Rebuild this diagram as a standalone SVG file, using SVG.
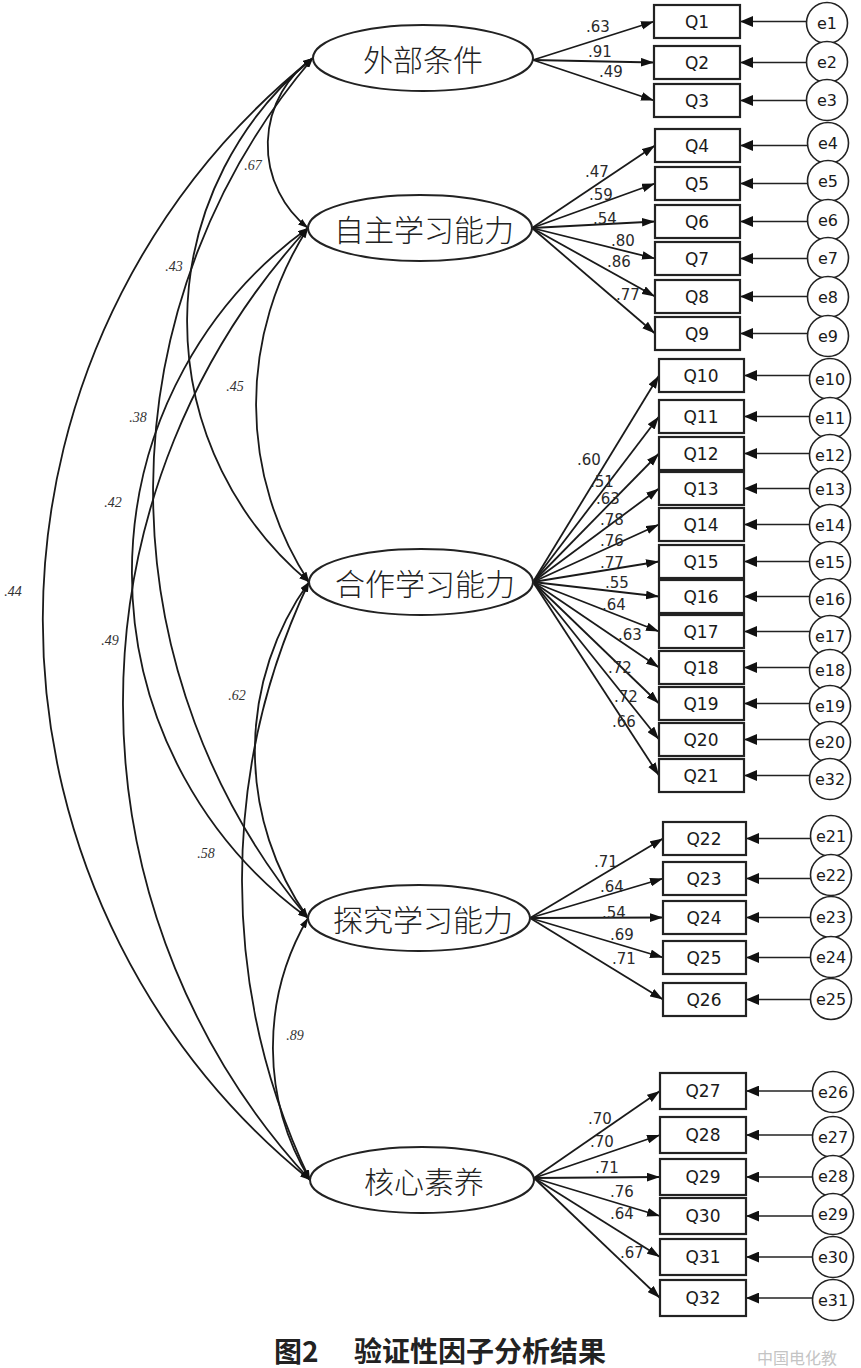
<svg xmlns="http://www.w3.org/2000/svg" width="861" height="1368" viewBox="0 0 861 1368">
<style>
.lat{fill:#fff;stroke:#222;stroke-width:2}
.latt{font-family:"Noto Sans CJK SC","Noto Sans",sans-serif;font-size:30px;font-weight:300;fill:#222;text-anchor:middle;dominant-baseline:central}
.box{fill:#fff;stroke:#222;stroke-width:2.2}
.bt{font-family:"DejaVu Sans",sans-serif;font-size:17px;fill:#1a1a1a;text-anchor:middle;dominant-baseline:central}
.err{fill:#fff;stroke:#222;stroke-width:1.6}
.et{font-family:"DejaVu Sans",sans-serif;font-size:16px;fill:#1a1a1a;text-anchor:middle;dominant-baseline:central}
.ld{stroke:#1a1a1a;stroke-width:1.8;fill:none;marker-end:url(#ah)}
.el{stroke:#222;stroke-width:1.3;fill:none;marker-end:url(#ah2)}
.cv{stroke:#1a1a1a;stroke-width:1.8;fill:none;marker-start:url(#ca);marker-end:url(#ca)}
.lt{font-family:"DejaVu Sans",sans-serif;font-size:15px;fill:#2a2a2a;text-anchor:middle;dominant-baseline:central}
.ct{font-family:"Liberation Serif",serif;font-size:14px;font-style:italic;fill:#333;text-anchor:middle;dominant-baseline:central}
.cap{font-family:"Noto Sans CJK SC",sans-serif;font-size:28px;font-weight:bold;fill:#222}
</style>
<defs>
<marker id="ah" viewBox="0 0 12 8" refX="12" refY="4" markerWidth="13" markerHeight="9" markerUnits="userSpaceOnUse" orient="auto"><path d="M0,0 L12,4 L0,8 z" fill="#111"/></marker>
<marker id="ah2" viewBox="0 0 12 10" refX="12" refY="5" markerWidth="13" markerHeight="11" markerUnits="userSpaceOnUse" orient="auto"><path d="M0,0 L12,5 L0,10 z" fill="#111"/></marker>
<marker id="ca" viewBox="0 0 10 7" refX="10" refY="3.5" markerWidth="10" markerHeight="7" markerUnits="userSpaceOnUse" orient="auto-start-reverse"><path d="M0,0 L10,3.5 L0,7 z" fill="#111"/></marker>
</defs>

<g id="connectors">
<path class="cv" d="M313,58 A106,106 0 0 0 308,228"/>
<path class="cv" d="M313,58 A339,339 0 0 0 309,582"/>
<path class="cv" d="M313,58 A666,666 0 0 0 308,918"/>
<path class="cv" d="M313,58 A720,720 0 0 0 310,1180"/>
<path class="cv" d="M308,228 A325,325 0 0 0 309,582"/>
<path class="cv" d="M308,228 A426,426 0 0 0 308,918"/>
<path class="cv" d="M308,228 A702,702 0 0 0 310,1180"/>
<path class="cv" d="M309,582 A290,290 0 0 0 308,918"/>
<path class="cv" d="M309,582 A696,696 0 0 0 310,1180"/>
<path class="cv" d="M308,918 A256,256 0 0 0 310,1180"/>
<path class="ld" d="M533,60 L654,21.5"/>
<path class="ld" d="M533,60 L654,62.5"/>
<path class="ld" d="M533,60 L654,100.5"/>
<path class="ld" d="M532,228 L655,145.5"/>
<path class="ld" d="M532,228 L655,183.5"/>
<path class="ld" d="M532,228 L655,221.5"/>
<path class="ld" d="M532,228 L655,258.5"/>
<path class="ld" d="M532,228 L655,296.5"/>
<path class="ld" d="M532,228 L655,333.5"/>
<path class="ld" d="M533,582 L659,375.5"/>
<path class="ld" d="M533,582 L659,416.5"/>
<path class="ld" d="M533,582 L659,453.5"/>
<path class="ld" d="M533,582 L659,488.5"/>
<path class="ld" d="M533,582 L659,524.5"/>
<path class="ld" d="M533,582 L659,561.5"/>
<path class="ld" d="M533,582 L659,596.5"/>
<path class="ld" d="M533,582 L659,631.5"/>
<path class="ld" d="M533,582 L659,667.5"/>
<path class="ld" d="M533,582 L659,703.5"/>
<path class="ld" d="M533,582 L659,739.5"/>
<path class="ld" d="M533,582 L659,775.5"/>
<path class="ld" d="M530,918 L663,838.5"/>
<path class="ld" d="M530,918 L663,878.5"/>
<path class="ld" d="M530,918 L663,917.5"/>
<path class="ld" d="M530,918 L663,957.5"/>
<path class="ld" d="M530,918 L663,999.5"/>
<path class="ld" d="M534,1178 L660,1091"/>
<path class="ld" d="M534,1178 L660,1135"/>
<path class="ld" d="M534,1178 L660,1177"/>
<path class="ld" d="M534,1178 L660,1216"/>
<path class="ld" d="M534,1178 L660,1257"/>
<path class="ld" d="M534,1178 L660,1298"/>
<path class="el" d="M807,21.5 L740,21.5"/>
<path class="el" d="M807,62.5 L740,62.5"/>
<path class="el" d="M807,100.5 L740,100.5"/>
<path class="el" d="M808,145.5 L740,145.5"/>
<path class="el" d="M808,183.5 L740,183.5"/>
<path class="el" d="M808,221.5 L740,221.5"/>
<path class="el" d="M808,258.5 L740,258.5"/>
<path class="el" d="M808,296.5 L740,296.5"/>
<path class="el" d="M808,333.5 L740,333.5"/>
<path class="el" d="M810,375.5 L744,375.5"/>
<path class="el" d="M810,416.5 L744,416.5"/>
<path class="el" d="M810,453.5 L744,453.5"/>
<path class="el" d="M810,488.5 L744,488.5"/>
<path class="el" d="M810,524.5 L744,524.5"/>
<path class="el" d="M810,561.5 L744,561.5"/>
<path class="el" d="M810,596.5 L744,596.5"/>
<path class="el" d="M810,631.5 L744,631.5"/>
<path class="el" d="M810,667.5 L744,667.5"/>
<path class="el" d="M810,703.5 L744,703.5"/>
<path class="el" d="M810,739.5 L744,739.5"/>
<path class="el" d="M810,775.5 L744,775.5"/>
<path class="el" d="M811,838.5 L746,838.5"/>
<path class="el" d="M811,878.5 L746,878.5"/>
<path class="el" d="M811,917.5 L746,917.5"/>
<path class="el" d="M811,957.5 L746,957.5"/>
<path class="el" d="M811,999.5 L746,999.5"/>
<path class="el" d="M813,1091 L746,1091"/>
<path class="el" d="M813,1135 L746,1135"/>
<path class="el" d="M813,1177 L746,1177"/>
<path class="el" d="M813,1216 L746,1216"/>
<path class="el" d="M813,1257 L746,1257"/>
<path class="el" d="M813,1298 L746,1298"/>
</g>

<g id="cov-labels">
<text class="ct" x="253" y="165">.67</text>
<text class="ct" x="174" y="266">.43</text>
<text class="ct" x="235" y="386">.45</text>
<text class="ct" x="138" y="417">.38</text>
<text class="ct" x="113" y="502">.42</text>
<text class="ct" x="13" y="591">.44</text>
<text class="ct" x="110" y="640">.49</text>
<text class="ct" x="237" y="695">.62</text>
<text class="ct" x="206" y="853">.58</text>
<text class="ct" x="295" y="1035">.89</text>
</g>

<g id="load-labels">
<text class="lt" x="598" y="27">.63</text>
<text class="lt" x="600" y="52">.91</text>
<text class="lt" x="611" y="72">.49</text>
<text class="lt" x="597" y="172">.47</text>
<text class="lt" x="601" y="195">.59</text>
<text class="lt" x="605" y="219">.54</text>
<text class="lt" x="623" y="241">.80</text>
<text class="lt" x="619" y="262">.86</text>
<text class="lt" x="628" y="295">.77</text>
<text class="lt" x="589" y="460">.60</text>
<text class="lt" x="602" y="482">.51</text>
<text class="lt" x="608" y="499">.63</text>
<text class="lt" x="612" y="520">.78</text>
<text class="lt" x="612" y="541">.76</text>
<text class="lt" x="612" y="563">.77</text>
<text class="lt" x="617" y="583">.55</text>
<text class="lt" x="614" y="605">.64</text>
<text class="lt" x="630" y="635">.63</text>
<text class="lt" x="620" y="668">.72</text>
<text class="lt" x="626" y="697">.72</text>
<text class="lt" x="624" y="722">.66</text>
<text class="lt" x="606" y="862">.71</text>
<text class="lt" x="612" y="887">.64</text>
<text class="lt" x="614" y="913">.54</text>
<text class="lt" x="622" y="935">.69</text>
<text class="lt" x="624" y="959">.71</text>
<text class="lt" x="600" y="1119">.70</text>
<text class="lt" x="602" y="1142">.70</text>
<text class="lt" x="607" y="1168">.71</text>
<text class="lt" x="622" y="1192">.76</text>
<text class="lt" x="622" y="1214">.64</text>
<text class="lt" x="632" y="1253">.67</text>
</g>

<g id="F1"><ellipse class="lat" cx="423" cy="58" rx="110" ry="33"/><text class="latt" x="423" y="58">外部条件</text></g>
<g id="F2"><ellipse class="lat" cx="420" cy="228" rx="112" ry="33"/><text class="latt" x="424" y="228">自主学习能力</text></g>
<g id="F3"><ellipse class="lat" cx="421" cy="582" rx="112" ry="33"/><text class="latt" x="425" y="582">合作学习能力</text></g>
<g id="F4"><ellipse class="lat" cx="419" cy="918" rx="111" ry="33"/><text class="latt" x="423" y="918">探究学习能力</text></g>
<g id="F5"><ellipse class="lat" cx="422" cy="1180" rx="112" ry="33"/><text class="latt" x="424" y="1180">核心素养</text></g>

<g id="Q1"><rect class="box" x="654" y="5" width="86" height="33"/><text class="bt" x="697" y="21.5">Q1</text></g>
<g id="Q2"><rect class="box" x="654" y="46" width="86" height="33"/><text class="bt" x="697" y="62.5">Q2</text></g>
<g id="Q3"><rect class="box" x="654" y="84" width="86" height="33"/><text class="bt" x="697" y="100.5">Q3</text></g>
<g id="Q4"><rect class="box" x="655" y="129" width="85" height="33"/><text class="bt" x="697" y="145.5">Q4</text></g>
<g id="Q5"><rect class="box" x="655" y="167" width="85" height="33"/><text class="bt" x="697" y="183.5">Q5</text></g>
<g id="Q6"><rect class="box" x="655" y="205" width="85" height="33"/><text class="bt" x="697" y="221.5">Q6</text></g>
<g id="Q7"><rect class="box" x="655" y="242" width="85" height="33"/><text class="bt" x="697" y="258.5">Q7</text></g>
<g id="Q8"><rect class="box" x="655" y="280" width="85" height="33"/><text class="bt" x="697" y="296.5">Q8</text></g>
<g id="Q9"><rect class="box" x="655" y="317" width="85" height="33"/><text class="bt" x="697" y="333.5">Q9</text></g>
<g id="Q10"><rect class="box" x="659" y="359" width="85" height="33"/><text class="bt" x="701" y="375.5">Q10</text></g>
<g id="Q11"><rect class="box" x="659" y="400" width="85" height="33"/><text class="bt" x="701" y="416.5">Q11</text></g>
<g id="Q12"><rect class="box" x="659" y="437" width="85" height="33"/><text class="bt" x="701" y="453.5">Q12</text></g>
<g id="Q13"><rect class="box" x="659" y="472" width="85" height="33"/><text class="bt" x="701" y="488.5">Q13</text></g>
<g id="Q14"><rect class="box" x="659" y="508" width="85" height="33"/><text class="bt" x="701" y="524.5">Q14</text></g>
<g id="Q15"><rect class="box" x="659" y="545" width="85" height="33"/><text class="bt" x="701" y="561.5">Q15</text></g>
<g id="Q16"><rect class="box" x="659" y="580" width="85" height="33"/><text class="bt" x="701" y="596.5">Q16</text></g>
<g id="Q17"><rect class="box" x="659" y="615" width="85" height="33"/><text class="bt" x="701" y="631.5">Q17</text></g>
<g id="Q18"><rect class="box" x="659" y="651" width="85" height="33"/><text class="bt" x="701" y="667.5">Q18</text></g>
<g id="Q19"><rect class="box" x="659" y="687" width="85" height="33"/><text class="bt" x="701" y="703.5">Q19</text></g>
<g id="Q20"><rect class="box" x="659" y="723" width="85" height="33"/><text class="bt" x="701" y="739.5">Q20</text></g>
<g id="Q21"><rect class="box" x="659" y="759" width="85" height="33"/><text class="bt" x="701" y="775.5">Q21</text></g>
<g id="Q22"><rect class="box" x="663" y="822" width="83" height="33"/><text class="bt" x="704" y="838.5">Q22</text></g>
<g id="Q23"><rect class="box" x="663" y="862" width="83" height="33"/><text class="bt" x="704" y="878.5">Q23</text></g>
<g id="Q24"><rect class="box" x="663" y="901" width="83" height="33"/><text class="bt" x="704" y="917.5">Q24</text></g>
<g id="Q25"><rect class="box" x="663" y="941" width="83" height="33"/><text class="bt" x="704" y="957.5">Q25</text></g>
<g id="Q26"><rect class="box" x="663" y="983" width="83" height="33"/><text class="bt" x="704" y="999.5">Q26</text></g>
<g id="Q27"><rect class="box" x="660" y="1073" width="86" height="36"/><text class="bt" x="703" y="1091">Q27</text></g>
<g id="Q28"><rect class="box" x="660" y="1117" width="86" height="36"/><text class="bt" x="703" y="1135">Q28</text></g>
<g id="Q29"><rect class="box" x="660" y="1159" width="86" height="36"/><text class="bt" x="703" y="1177">Q29</text></g>
<g id="Q30"><rect class="box" x="660" y="1198" width="86" height="36"/><text class="bt" x="703" y="1216">Q30</text></g>
<g id="Q31"><rect class="box" x="660" y="1239" width="86" height="36"/><text class="bt" x="703" y="1257">Q31</text></g>
<g id="Q32"><rect class="box" x="660" y="1280" width="86" height="36"/><text class="bt" x="703" y="1298">Q32</text></g>

<g id="e1"><circle class="err" cx="827" cy="23" r="20.5"/><text class="et" x="827" y="23">e1</text></g>
<g id="e2"><circle class="err" cx="827" cy="62" r="20.5"/><text class="et" x="827" y="62">e2</text></g>
<g id="e3"><circle class="err" cx="827" cy="100" r="20.5"/><text class="et" x="827" y="100">e3</text></g>
<g id="e4"><circle class="err" cx="828" cy="143" r="20.5"/><text class="et" x="828" y="143">e4</text></g>
<g id="e5"><circle class="err" cx="828" cy="181" r="20.5"/><text class="et" x="828" y="181">e5</text></g>
<g id="e6"><circle class="err" cx="828" cy="220" r="20.5"/><text class="et" x="828" y="220">e6</text></g>
<g id="e7"><circle class="err" cx="828" cy="258" r="20.5"/><text class="et" x="828" y="258">e7</text></g>
<g id="e8"><circle class="err" cx="828" cy="297" r="20.5"/><text class="et" x="828" y="297">e8</text></g>
<g id="e9"><circle class="err" cx="828" cy="336" r="20.5"/><text class="et" x="828" y="336">e9</text></g>
<g id="e10"><circle class="err" cx="830" cy="379" r="20.5"/><text class="et" x="830" y="379">e10</text></g>
<g id="e11"><circle class="err" cx="830" cy="418" r="20.5"/><text class="et" x="830" y="418">e11</text></g>
<g id="e12"><circle class="err" cx="830" cy="455" r="20.5"/><text class="et" x="830" y="455">e12</text></g>
<g id="e13"><circle class="err" cx="830" cy="489" r="20.5"/><text class="et" x="830" y="489">e13</text></g>
<g id="e14"><circle class="err" cx="830" cy="525" r="20.5"/><text class="et" x="830" y="525">e14</text></g>
<g id="e15"><circle class="err" cx="830" cy="562" r="20.5"/><text class="et" x="830" y="562">e15</text></g>
<g id="e16"><circle class="err" cx="830" cy="599" r="20.5"/><text class="et" x="830" y="599">e16</text></g>
<g id="e17"><circle class="err" cx="830" cy="636" r="20.5"/><text class="et" x="830" y="636">e17</text></g>
<g id="e18"><circle class="err" cx="830" cy="670" r="20.5"/><text class="et" x="830" y="670">e18</text></g>
<g id="e19"><circle class="err" cx="830" cy="706" r="20.5"/><text class="et" x="830" y="706">e19</text></g>
<g id="e20"><circle class="err" cx="830" cy="742" r="20.5"/><text class="et" x="830" y="742">e20</text></g>
<g id="e32"><circle class="err" cx="830" cy="779" r="20.5"/><text class="et" x="830" y="779">e32</text></g>
<g id="e21"><circle class="err" cx="831" cy="836" r="20.5"/><text class="et" x="831" y="836">e21</text></g>
<g id="e22"><circle class="err" cx="831" cy="875" r="20.5"/><text class="et" x="831" y="875">e22</text></g>
<g id="e23"><circle class="err" cx="831" cy="917" r="20.5"/><text class="et" x="831" y="917">e23</text></g>
<g id="e24"><circle class="err" cx="831" cy="957" r="20.5"/><text class="et" x="831" y="957">e24</text></g>
<g id="e25"><circle class="err" cx="831" cy="999" r="20.5"/><text class="et" x="831" y="999">e25</text></g>
<g id="e26"><circle class="err" cx="833" cy="1092" r="20.5"/><text class="et" x="833" y="1092">e26</text></g>
<g id="e27"><circle class="err" cx="833" cy="1137" r="20.5"/><text class="et" x="833" y="1137">e27</text></g>
<g id="e28"><circle class="err" cx="833" cy="1176" r="20.5"/><text class="et" x="833" y="1176">e28</text></g>
<g id="e29"><circle class="err" cx="833" cy="1214" r="20.5"/><text class="et" x="833" y="1214">e29</text></g>
<g id="e30"><circle class="err" cx="833" cy="1257" r="20.5"/><text class="et" x="833" y="1257">e30</text></g>
<g id="e31"><circle class="err" cx="833" cy="1300" r="20.5"/><text class="et" x="833" y="1300">e31</text></g>

<g id="caption">
<text class="cap" x="274" y="1362">图2</text>
<text class="cap" x="354" y="1362">验证性因子分析结果</text>
<text x="757" y="1364" font-family="Noto Sans CJK SC, sans-serif" font-size="16" fill="#c4c4c4">中国电化教</text>
</g>
</svg>
